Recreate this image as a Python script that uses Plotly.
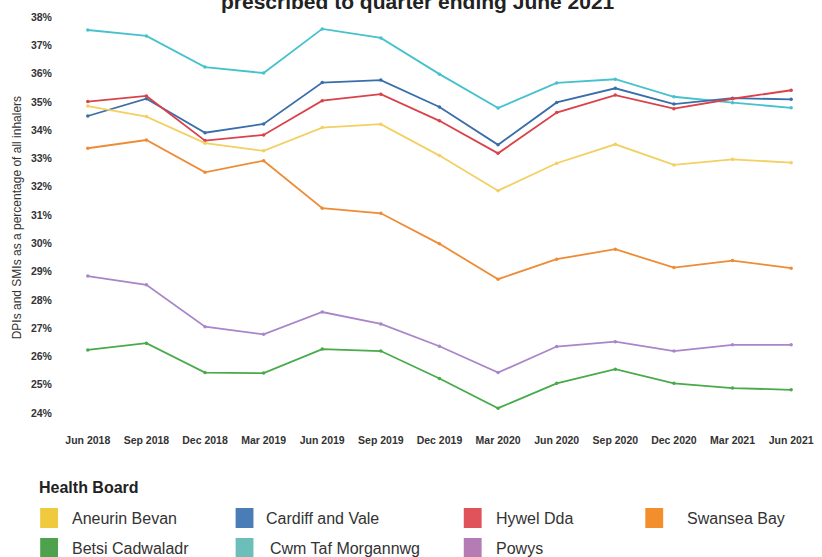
import plotly.graph_objects as go

quarters = ["Jun 2018", "Sep 2018", "Dec 2018", "Mar 2019", "Jun 2019", "Sep 2019", "Dec 2019",
            "Mar 2020", "Jun 2020", "Sep 2020", "Dec 2020", "Mar 2021", "Jun 2021"]

aneurin_bevan = [34.85, 34.48, 33.54, 33.27, 34.09, 34.21, 33.10, 31.86, 32.83, 33.50, 32.77, 32.97, 32.85]
betsi_cadwaladr = [26.23, 26.47, 25.43, 25.41, 26.26, 26.19, 25.22, 24.17, 25.05, 25.55, 25.05, 24.88, 24.82]
cardiff_and_vale = [34.50, 35.11, 33.91, 34.22, 35.68, 35.77, 34.82, 33.48, 34.98, 35.48, 34.92, 35.13, 35.09]
cwm_taf = [37.54, 37.33, 36.23, 36.02, 37.58, 37.26, 35.98, 34.78, 35.67, 35.80, 35.18, 34.97, 34.79]
hywel_dda = [35.01, 35.21, 33.63, 33.83, 35.04, 35.27, 34.33, 33.18, 34.62, 35.24, 34.76, 35.11, 35.41]
powys = [28.84, 28.53, 27.05, 26.78, 27.57, 27.15, 26.36, 25.43, 26.35, 26.52, 26.19, 26.41, 26.41]
swansea_bay = [33.36, 33.65, 32.51, 32.92, 31.24, 31.06, 29.98, 28.73, 29.44, 29.79, 29.14, 29.39, 29.12]

y_ticks = list(range(24, 39))

series = [
    ("Cwm Taf Morgannwg", cwm_taf, "#46C1CE", "#6CBFB8"),
    ("Cardiff and Vale", cardiff_and_vale, "#3A6EA8", "#4A7CB5"),
    ("Hywel Dda", hywel_dda, "#D9424A", "#E0535A"),
    ("Aneurin Bevan", aneurin_bevan, "#F2D062", "#EFC93E"),
    ("Swansea Bay", swansea_bay, "#EE8C35", "#F28E2B"),
    ("Powys", powys, "#A986C9", "#B57BB5"),
    ("Betsi Cadwaladr", betsi_cadwaladr, "#48AA4A", "#4EA24E"),
]

fig = go.Figure()
xs = list(range(len(quarters)))
for name, vals, lc, _ in series:
    fig.add_trace(go.Scatter(
        x=xs, y=vals, name=name, mode="lines+markers",
        line=dict(color=lc, width=1.8),
        marker=dict(size=3.5, color=lc),
        showlegend=False,
    ))

L, R, T, B = 62, 8, 10, 137
W, H = 822, 557
pw, ph = W - L - R, H - T - B
ppu = (797 - 88) / 12.0
x0 = -(88 - L) / ppu
x1 = 12 + (W - R - 797) / ppu
ypu = (413 - 17) / 14.0
ymax = 38 + (17 - T) / ypu
ymin = 24 - ((H - B) - 413) / ypu

tickfont = dict(family="Liberation Sans Narrow, Arial Narrow, Liberation Sans", size=10.5, color="#333333", weight="bold")

fig.update_xaxes(
    range=[x0, x1], tickmode="array", tickvals=xs, ticktext=quarters,
    showgrid=False, zeroline=False, showline=False,
    ticks="outside", ticklen=10, tickcolor="rgba(0,0,0,0)",
    tickfont=tickfont, fixedrange=True,
)
fig.update_yaxes(
    range=[ymin, ymax], tickmode="array", tickvals=y_ticks,
    ticktext=[f"{v}%" for v in y_ticks],
    showgrid=False, zeroline=False, showline=False,
    ticks="outside", ticklen=7, tickcolor="rgba(0,0,0,0)",
    tickfont=tickfont, fixedrange=True,
)

def px_x(p):
    return (p - L) / pw

def px_y(p):
    return 1 - (p - T) / ph

annotations = [
    dict(text="<b>prescribed to quarter ending June 2021</b>", x=px_x(421), y=px_y(2), xref="paper", yref="paper",
         xanchor="center", yanchor="middle", showarrow=False,
         font=dict(family="Liberation Sans, Arial", size=21, color="#222222")),
    dict(text="DPIs and SMIs as a percentage of all inhalers", x=px_x(17), y=px_y(218), xref="paper", yref="paper",
         xanchor="center", yanchor="middle", textangle=-90, showarrow=False,
         font=dict(family="Liberation Sans, Arial", size=12, color="#333333")),
    dict(text="<b>Health Board</b>", x=px_x(37), y=px_y(488), xref="paper", yref="paper",
         xanchor="left", yanchor="middle", showarrow=False,
         font=dict(family="Liberation Sans, Arial", size=16, color="#222222")),
]

legend_layout = {
    "Aneurin Bevan": (40, 518, 70),
    "Cardiff and Vale": (237, 518, 266),
    "Hywel Dda": (467, 518, 497),
    "Swansea Bay": (650, 518, 690),
    "Betsi Cadwaladr": (40, 548, 70),
    "Cwm Taf Morgannwg": (237, 548, 270),
    "Powys": (467, 548, 497),
}
shapes = []
for name, _, _, sc in series:
    sx, cy, tx = legend_layout[name]
    shapes.append(dict(type="rect", xref="paper", yref="paper",
                       x0=px_x(sx), x1=px_x(sx + 18), y0=px_y(cy - 10), y1=px_y(cy + 10),
                       fillcolor=sc, line=dict(width=0)))
    annotations.append(dict(text=name, x=px_x(tx), y=px_y(cy), xref="paper", yref="paper",
                            xanchor="left", yanchor="middle", showarrow=False,
                            font=dict(family="Liberation Sans, Arial", size=16, color="#333333")))

fig.update_layout(
    width=W, height=H, margin=dict(l=L, r=R, t=T, b=B),
    plot_bgcolor="white", paper_bgcolor="white",
    showlegend=False, annotations=annotations, shapes=shapes,
)

fig.write_html("out.html", config={"displayModeBar": False})
